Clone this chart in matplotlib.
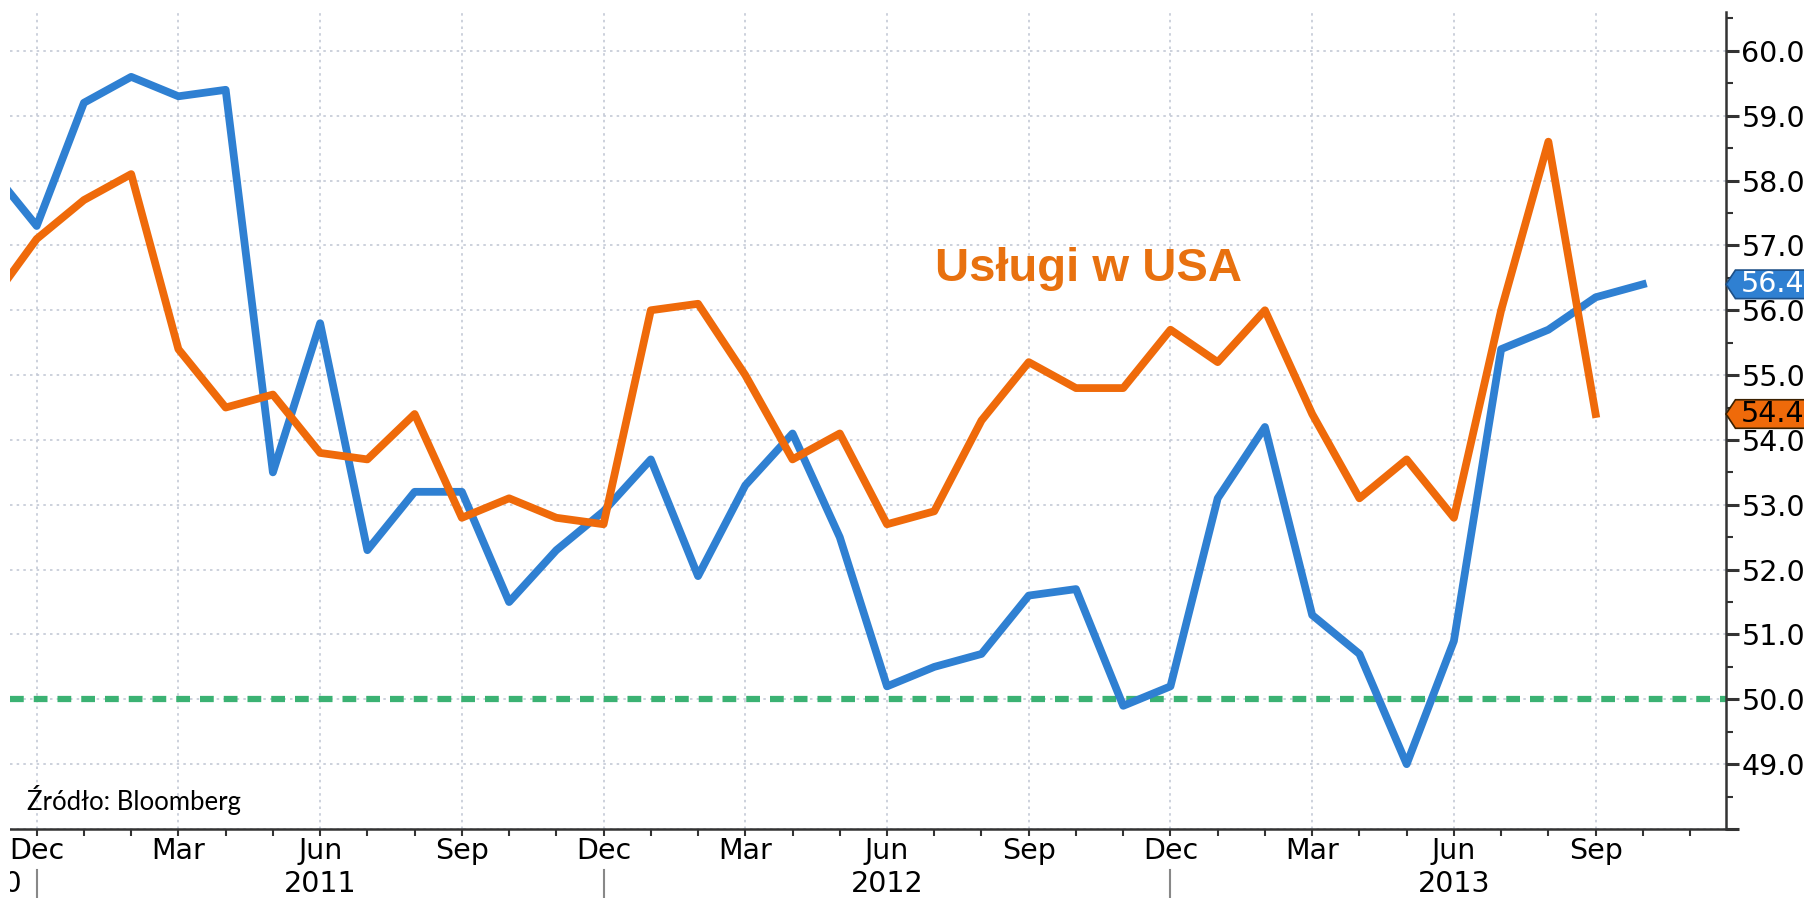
import matplotlib
matplotlib.use("Agg")
import matplotlib.pyplot as plt
import matplotlib.transforms as mtransforms
from matplotlib.patches import Polygon, Rectangle
import numpy as np

# === Dane (miesięcznie, od Nov 2010) ===
# indeks 0 = Dec 2010
blue_values = [58.2, 57.3, 59.2, 59.6, 59.3, 59.4, 53.5, 55.8, 52.3, 53.2, 53.2, 51.5,
               52.3, 52.9, 53.7, 51.9, 53.3, 54.1, 52.5, 50.2, 50.5, 50.7, 51.6, 51.7,
               49.9, 50.2, 53.1, 54.2, 51.3, 50.7, 49.0, 50.9, 55.4, 55.7, 56.2, 56.4]
orange_values = [56.1, 57.1, 57.7, 58.1, 55.4, 54.5, 54.7, 53.8, 53.7, 54.4, 52.8, 53.1,
                 52.8, 52.7, 56.0, 56.1, 55.0, 53.7, 54.1, 52.7, 52.9, 54.3, 55.2, 54.8,
                 54.8, 55.7, 55.2, 56.0, 54.4, 53.1, 53.7, 52.8, 56.0, 58.6, 54.4]
quarter_labels = ["Dec", "Mar", "Jun", "Sep"]
year_labels = ["2011", "2012", "2013"]
first_year = "2010"
threshold = 50.0

title_text = "Usługi w USA"
source_text = "Źródło: Bloomberg"

BLUE = "#2f80d2"
ORANGE = "#ef6a0a"
GREEN = "#3bb273"
GRID = "#c4c9d6"
DARK = "#333333"
FS = 20.5

x_blue = np.arange(len(blue_values)) - 1
x_orange = np.arange(len(orange_values)) - 1

W, H = 1804, 898
fig = plt.figure(figsize=(W / 100, H / 100), dpi=100)
ax = fig.add_axes([10 / W, 69 / H, 1716 / W, 817 / H])

# --- linie ---
ax.axhline(threshold, color=GREEN, lw=4.5, dashes=(2.2, 1.6), dash_capstyle="butt", zorder=2)
ax.plot(x_blue, blue_values, color=BLUE, lw=5.6, solid_joinstyle="round", zorder=3)
ax.plot(x_orange, orange_values, color=ORANGE, lw=5.6, solid_joinstyle="round", zorder=4)

ax.set_xlim(-0.565, 35.76)
ax.set_ylim(48, 60.6)

# --- os X ---
quarter_pos = np.arange(0, 34, 3)
ax.set_xticks(quarter_pos)
ax.set_xticklabels([quarter_labels[i % 4] for i in range(len(quarter_pos))])
ax.set_xticks(np.arange(0, 36), minor=True)
ax.tick_params(axis="x", which="both", direction="out", length=5, width=1.5,
               color=DARK, labelsize=FS, pad=1)

# --- os Y (po prawej) ---
y_major = np.arange(48, 61)
ax.set_yticks(y_major)
ax.set_yticklabels(["" if v == 48 else f"{v:.1f}" for v in y_major])
ax.set_yticks(np.arange(48.5, 60.6, 1.0), minor=True)
ax.tick_params(axis="y", which="major", left=False, right=True, labelleft=False,
               labelright=True, length=9, width=2.2, color=DARK, labelsize=FS, pad=2)
ax.tick_params(axis="y", which="minor", left=False, right=True, length=5, width=1.5, color=DARK)

for side in ["left", "top"]:
    ax.spines[side].set_visible(False)
for side in ["right", "bottom"]:
    ax.spines[side].set_color(DARK)
    ax.spines[side].set_linewidth(1.8)

ax.grid(True, which="major", linestyle=(0, (1.5, 2.5)), color=GRID, lw=1.2, zorder=0)
ax.set_axisbelow(True)

# --- lata pod miesiacami ---
trans_x = mtransforms.blended_transform_factory(ax.transData, ax.transAxes)
for i, yl in enumerate(year_labels):
    ax.text(6 + 12 * i, -0.067, yl, transform=trans_x, ha="center", va="center",
            fontsize=FS, clip_on=False)
for i in range(3):
    ax.plot([12 * i, 12 * i], [-0.050, -0.085], transform=trans_x, color="#888888",
            lw=1.5, clip_on=False)
fig.text(23 / W, 14 / H, first_year, ha="right", va="center", fontsize=FS)
fig.patches.append(Rectangle((0, 0), 10 / W, 1, transform=fig.transFigure,
                             facecolor="white", edgecolor="none", zorder=100))

# --- napisy ---
ax.text(19.02, 56.45, title_text, color="#e8710f", fontsize=34, fontweight="bold",
        family="Liberation Sans", va="baseline", ha="left", zorder=6)
ax.text(0.0099, 48.3, source_text,
        transform=mtransforms.blended_transform_factory(ax.transAxes, ax.transData),
        fontsize=18.5, family="Lato", va="baseline", ha="left", zorder=6)

# --- etykiety ostatnich wartosci ---
trans_tag = mtransforms.blended_transform_factory(ax.transAxes, ax.transData)
for val, fc, ec, tc in [(blue_values[-1], BLUE, "#1d4f86", "white"),
                        (orange_values[-1], ORANGE, "#3a2000", "black")]:
    h = 0.22
    poly = Polygon([[1.0, val], [1.0055, val + h], [1.07, val + h],
                    [1.07, val - h], [1.0055, val - h]], closed=True,
                   transform=trans_tag, facecolor=fc, edgecolor=ec, lw=1.2,
                   clip_on=False, zorder=10)
    ax.add_patch(poly)
    ax.text(1.0087, val, f"{val:.1f}", transform=trans_tag, color=tc, fontsize=FS,
            va="center", ha="left", clip_on=False, zorder=11)

fig.savefig("out.png", dpi=100)
